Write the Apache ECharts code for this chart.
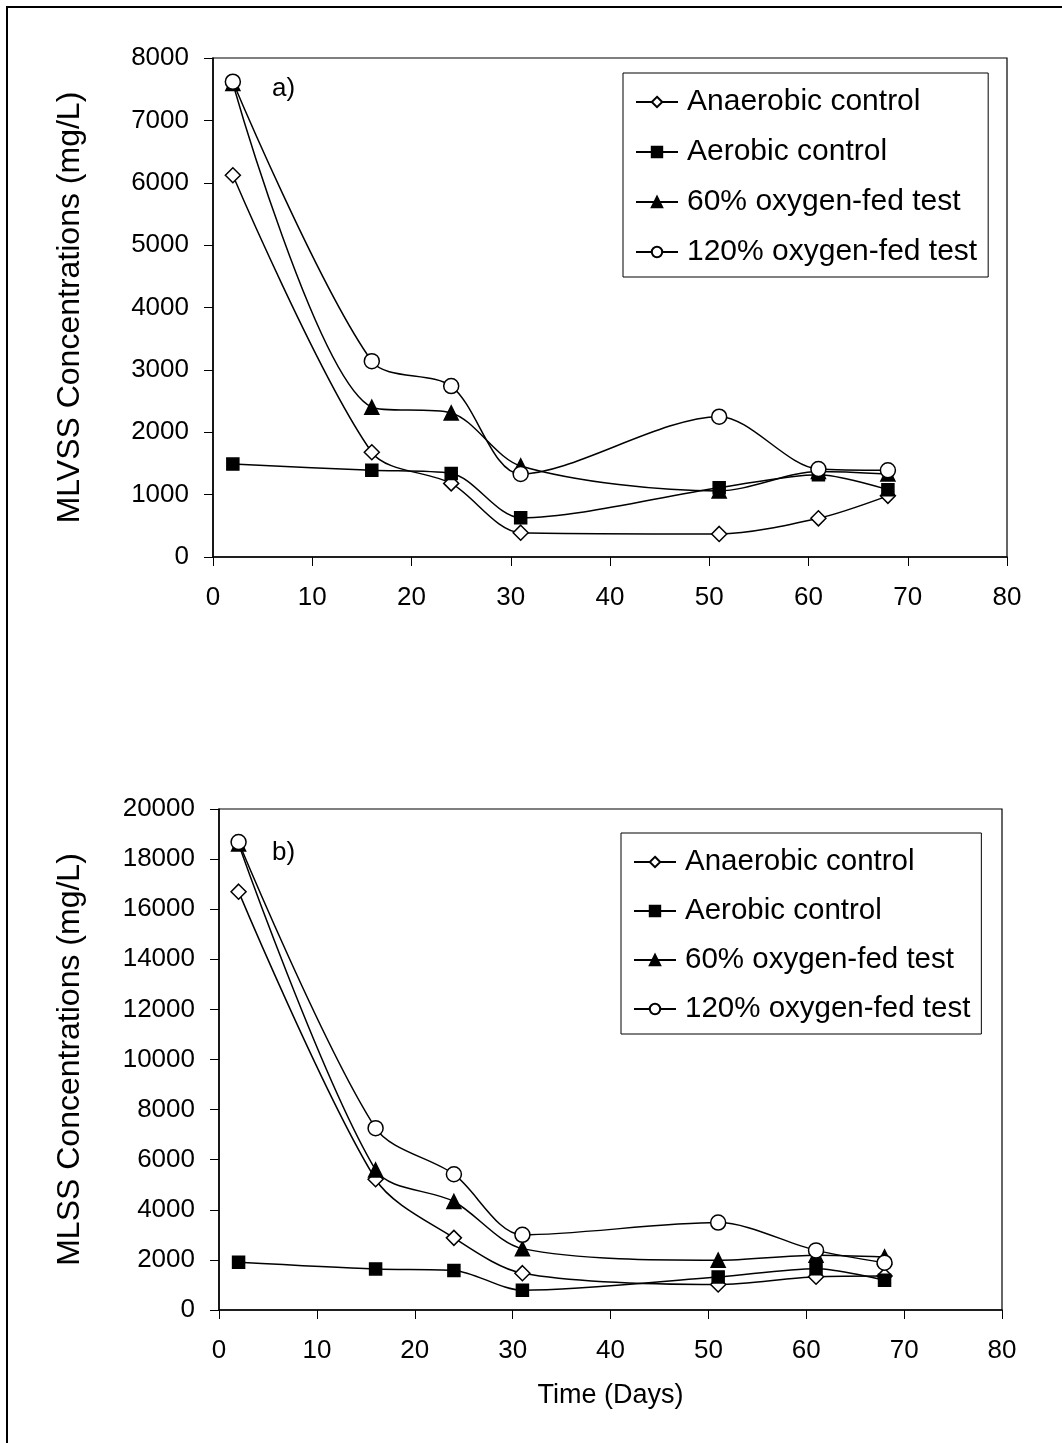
<!DOCTYPE html>
<html>
<head>
<meta charset="utf-8">
<script src="https://cdn.jsdelivr.net/npm/echarts@6/dist/echarts.min.js"></script>
<style>
html,body{margin:0;padding:0;background:#fff;}
#chart{width:1062px;height:1443px;}
</style>
</head>
<body>
<div id="chart"></div>
<script>
// Time (days)
var days = [2, 16, 24, 31, 51, 61, 68];
var seriesNames = ['Anaerobic control', 'Aerobic control', '60% oxygen-fed test', '120% oxygen-fed test'];

// a) MLVSS (mg/L)
var anaerobicA = [6120, 1680, 1180, 390, 370, 620, 980];
var aerobicA   = [1490, 1390, 1340, 630, 1110, 1320, 1080];
var o60A       = [7590, 2400, 2310, 1460, 1060, 1370, 1330];
var o120A      = [7620, 3140, 2740, 1330, 2250, 1410, 1390];

// b) MLSS (mg/L)
var anaerobicB = [16700, 5220, 2880, 1470, 1020, 1330, 1360];
var aerobicB   = [1910, 1640, 1580, 790, 1320, 1650, 1190];
var o60B       = [18600, 5590, 4330, 2450, 1990, 2190, 2120];
var o120B      = [18680, 7260, 5420, 3000, 3490, 2380, 1890];

var FONT = "'Liberation Sans', Arial, sans-serif";

function pairs(ys) { return days.map(function (d, i) { return [d, ys[i]]; }); }

var markers = [
  { symbol: 'diamond', size: 15, fill: '#fff' },
  { symbol: 'rect', size: 12, fill: '#000' },
  { symbol: 'triangle', size: 14, fill: '#000' },
  { symbol: 'circle', size: 15, fill: '#fff' }
];

function mkSeries(idx, values, gi) {
  var m = markers[idx];
  return {
    name: seriesNames[idx],
    type: 'line',
    xAxisIndex: gi, yAxisIndex: gi,
    data: pairs(values),
    smooth: 0.3,
    symbol: m.symbol,
    symbolSize: m.size,
    showAllSymbol: true,
    lineStyle: { color: '#000', width: 1.5 },
    itemStyle: { color: m.fill, borderColor: '#000', borderWidth: 1.5 },
    z: 3
  };
}

function plain(v) { return String(v); }

function xAx(gi, showName) {
  return {
    type: 'value', gridIndex: gi, min: 0, max: 80, interval: 10,
    name: showName ? 'Time (Days)' : '',
    nameLocation: 'middle', nameGap: 72,
    nameTextStyle: { fontFamily: FONT, fontSize: 27, color: '#000' },
    axisLine: { show: true, onZero: false, lineStyle: { color: '#000', width: 1.5 } },
    axisTick: { show: true, length: 9, lineStyle: { color: '#000', width: 1 } },
    axisLabel: { fontFamily: FONT, fontSize: 26, color: '#000', margin: 28, formatter: plain },
    splitLine: { show: false }
  };
}

function yAx(gi, max, interval, name, gap) {
  return {
    type: 'value', gridIndex: gi, min: 0, max: max, interval: interval,
    name: name, nameLocation: 'middle', nameGap: gap, nameRotate: 90,
    nameTextStyle: { fontFamily: FONT, fontSize: 32, color: '#000' },
    axisLine: { show: true, lineStyle: { color: '#000', width: 1.5 } },
    axisTick: { show: true, length: 9, lineStyle: { color: '#000', width: 1 } },
    axisLabel: { fontFamily: FONT, fontSize: 26, color: '#000', margin: 24, formatter: plain },
    splitLine: { show: false }
  };
}

function legend(left, top, fs, gap) {
  return {
    left: left, top: top, orient: 'vertical',
    data: seriesNames,
    itemWidth: 42, itemHeight: 13, itemGap: gap,
    padding: [14, 11, 10, 12],
    borderColor: '#000', borderWidth: 1,
    textStyle: { fontFamily: FONT, fontSize: fs, color: '#000', lineHeight: 30, padding: [0, 0, 0, 4] },
    selectedMode: false
  };
}

var chart = echarts.init(document.getElementById('chart'), null, { renderer: 'canvas' });
chart.setOption({
  backgroundColor: '#fff',
  animation: false,
  grid: [
    { left: 213, top: 58, width: 794, height: 499, show: true, borderColor: '#000', borderWidth: 1.2, backgroundColor: 'transparent' },
    { left: 219, top: 809, width: 783, height: 501, show: true, borderColor: '#000', borderWidth: 1.2, backgroundColor: 'transparent' }
  ],
  xAxis: [xAx(0, false), xAx(1, true)],
  yAxis: [
    yAx(0, 8000, 1000, 'MLVSS Concentrations (mg/L)', 127),
    yAx(1, 20000, 2000, 'MLSS Concentrations (mg/L)', 133)
  ],
  legend: [legend(623, 73, 30, 20), legend(621, 833, 29.5, 19)],
  series: [
    mkSeries(0, anaerobicA, 0), mkSeries(1, aerobicA, 0), mkSeries(2, o60A, 0), mkSeries(3, o120A, 0),
    mkSeries(0, anaerobicB, 1), mkSeries(1, aerobicB, 1), mkSeries(2, o60B, 1), mkSeries(3, o120B, 1)
  ],
  graphic: [
    { type: 'polyline', shape: { points: [[7, 1443], [7, 7], [1062, 7]] }, style: { stroke: '#000', lineWidth: 2, fill: null } },
    { type: 'text', left: 272, top: 76, style: { text: 'a)', font: "26px 'Liberation Sans', Arial, sans-serif", fill: '#000' } },
    { type: 'text', left: 272, top: 840, style: { text: 'b)', font: "26px 'Liberation Sans', Arial, sans-serif", fill: '#000' } }
  ]
});
</script>
</body>
</html>
